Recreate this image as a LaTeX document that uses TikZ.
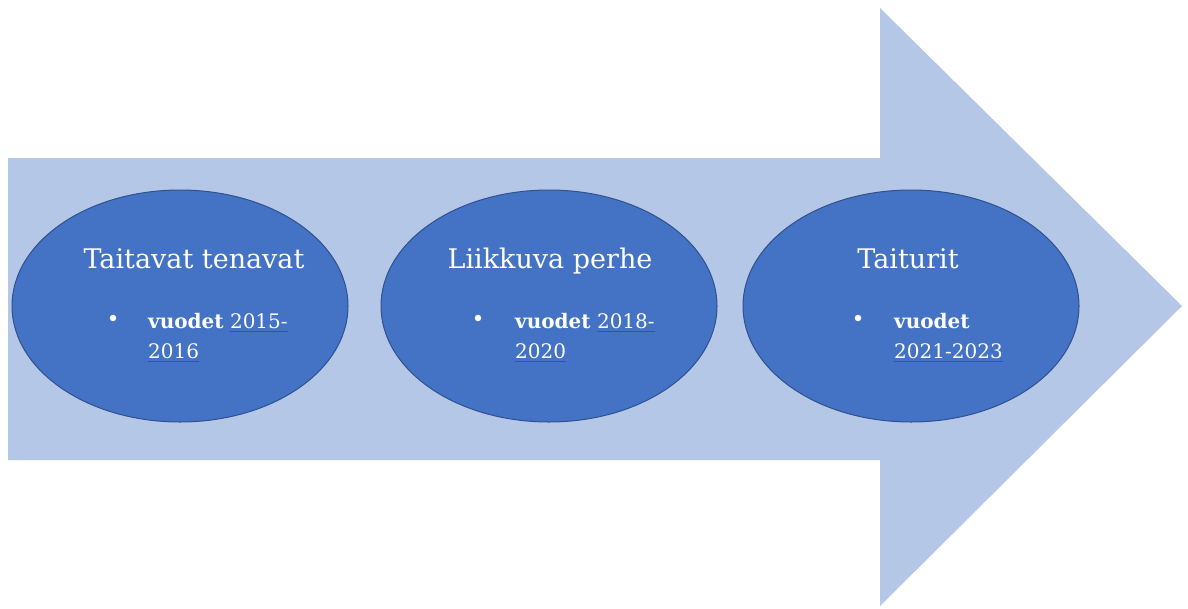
\documentclass[tikz,border=0pt]{standalone}
\usepackage{fontspec}
\setmainfont{DejaVu Serif}
\usetikzlibrary{shapes.geometric}
\definecolor{arrowblue}{HTML}{B4C7E7}
\definecolor{ellfill}{HTML}{4472C4}
\definecolor{elldraw}{HTML}{2F528F}
\definecolor{ulblue}{HTML}{2A52C8}
\begin{document}
\begin{tikzpicture}[x=1pt,y=-1pt,
  ellnode/.style={ellipse, fill=ellfill, draw=elldraw, line width=1pt,
    minimum width=336pt, minimum height=232pt, inner sep=0pt},
  titletext/.style={anchor=base, text=white, font=\fontsize{27}{32}\selectfont, inner sep=0pt},
  itemtext/.style={anchor=base west, text=white, font=\fontsize{20}{24}\selectfont, inner sep=0pt},
  bulletdot/.style={circle, fill=white, inner sep=0pt, minimum size=6.5pt},
  ulline/.style={draw=ulblue, line width=1.3pt}]
\useasboundingbox (0,0) rectangle (1188,608);
% big arrow
\fill[arrowblue] (8,158) -- (880,158) -- (880,8) -- (1182,306) -- (880,606) -- (880,460) -- (8,460) -- cycle;
% ellipses
\node[ellnode] (e1) at (180,306) {};
\node[ellnode] (e2) at (549,306) {};
\node[ellnode] (e3) at (911,306) {};
% ellipse 1
\node[titletext] (t1) at ([xshift=14pt,yshift=38pt]e1.center) {Taitavat tenavat};
\node[bulletdot] (b1) at ([xshift=-67pt,yshift=-12pt]e1.center) {};
\node[itemtext] (v1) at ([xshift=-32pt,yshift=-22pt]e1.center) {\textbf{vuodet}};
\node[itemtext] (y1a) at ([xshift=6pt]v1.base east) {2015-};
\node[itemtext] (y1b) at ([xshift=-32pt,yshift=-52pt]e1.center) {2016};
% ellipse 2
\node[titletext] (t2) at ([xshift=1pt,yshift=38pt]e2.center) {Liikkuva perhe};
\node[bulletdot] (b2) at ([xshift=-71pt,yshift=-12pt]e2.center) {};
\node[itemtext] (v2) at ([xshift=-34pt,yshift=-22pt]e2.center) {\textbf{vuodet}};
\node[itemtext] (y2a) at ([xshift=6pt]v2.base east) {2018-};
\node[itemtext] (y2b) at ([xshift=-34pt,yshift=-52pt]e2.center) {2020};
% ellipse 3
\node[titletext] (t3) at ([xshift=-3pt,yshift=38pt]e3.center) {Taiturit};
\node[bulletdot] (b3) at ([xshift=-53pt,yshift=-12pt]e3.center) {};
\node[itemtext] (v3) at ([xshift=-17pt,yshift=-22pt]e3.center) {\textbf{vuodet}};
\node[itemtext] (y3b) at ([xshift=-17pt,yshift=-52pt]e3.center) {2021-2023};
% underlines
\foreach \n in {y1a,y1b,y2a,y2b,y3b}{
  \draw[ulline] ([yshift=-3.5pt]\n.base west) -- ([yshift=-3.5pt]\n.base east);
}
\end{tikzpicture}
\end{document}
